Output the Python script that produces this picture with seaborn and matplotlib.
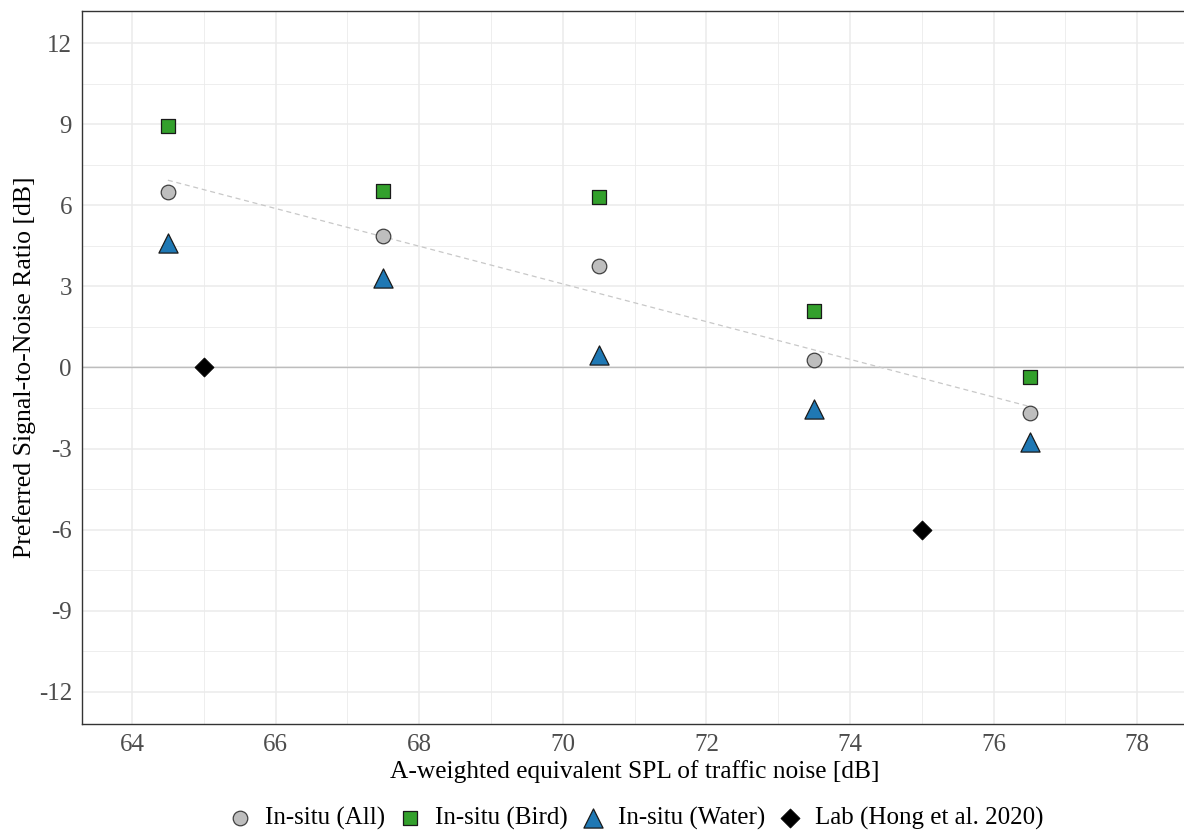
import matplotlib
matplotlib.use("Agg")
import matplotlib.pyplot as plt
import seaborn as sns
from matplotlib.ticker import MultipleLocator, FixedLocator


# =========================
# DATA
# =========================

spl_insitu = [64.5, 67.5, 70.5, 73.5, 76.5]
snr_all = [6.50, 4.86, 3.75, 0.27, -1.67]
snr_bird = [8.95, 6.53, 6.32, 2.08, -0.35]
snr_water = [4.60, 3.30, 0.46, -1.52, -2.75]

spl_lab = [65.0, 75.0]
snr_lab = [0.0, -6.0]

series_labels = ["In-situ (All)", "In-situ (Bird)", "In-situ (Water)", "Lab (Hong et al. 2020)"]
x_ticks = [64, 66, 68, 70, 72, 74, 76, 78]
y_ticks = [-12, -9, -6, -3, 0, 3, 6, 9, 12]


# =========================
# STYLE
# =========================

sns.set_style("white")
plt.rcParams["font.family"] = ["Liberation Serif", "DejaVu Serif"]
plt.rcParams["axes.unicode_minus"] = False
plt.rcParams["text.color"] = "black"
plt.rcParams["axes.labelcolor"] = "black"

grid_col = "#EBEBEB"
tick_col = "#4D4D4D"
frame_col = "#333333"


# =========================
# PLOT
# =========================

fig = plt.figure(figsize=(11.84, 8.33), dpi=100)
ax = fig.add_axes([0.069, 0.1305, 0.934, 0.8567])

ax.set_xlim(63.3, 78.7)
ax.set_ylim(-13.2, 13.2)

ax.xaxis.set_major_locator(FixedLocator(x_ticks))
ax.xaxis.set_minor_locator(MultipleLocator(1))
ax.yaxis.set_major_locator(FixedLocator(y_ticks))
ax.yaxis.set_minor_locator(MultipleLocator(1.5))

ax.grid(which="major", color=grid_col, lw=1.1, zorder=0)
ax.grid(which="minor", color=grid_col, lw=0.6, zorder=0)
ax.set_axisbelow(True)

# zero reference line
ax.axhline(0, color="#BDBDBD", lw=1.0, zorder=1)

# linear trend through the in-situ (all) points
sns.regplot(x=spl_insitu, y=snr_all, scatter=False, ci=None, truncate=True, ax=ax,
            line_kws=dict(color="#C8C8C8", lw=0.9, ls=(0, (4, 3)), zorder=2))

sns.scatterplot(x=spl_insitu, y=snr_all, ax=ax, marker="o", s=110,
                color="#BEBEBE", edgecolor="#404040", linewidth=0.9,
                label=series_labels[0], zorder=4)
sns.scatterplot(x=spl_insitu, y=snr_bird, ax=ax, marker="s", s=95,
                color="#33A02C", edgecolor="#1A1A1A", linewidth=0.9,
                label=series_labels[1], zorder=4)
sns.scatterplot(x=spl_insitu, y=snr_water, ax=ax, marker="^", s=190,
                color="#1F78B4", edgecolor="#1A1A1A", linewidth=0.9,
                label=series_labels[2], zorder=4)
sns.scatterplot(x=spl_lab, y=snr_lab, ax=ax, marker="D", s=95,
                color="black", edgecolor="black", linewidth=0.5,
                label=series_labels[3], zorder=4)

ax.set_xlabel("A-weighted equivalent SPL of traffic noise [dB]", fontsize=18.3, labelpad=3)
ax.set_ylabel("Preferred Signal-to-Noise Ratio [dB]", fontsize=18.5, labelpad=2)

ax.tick_params(axis="both", which="major", labelsize=18, labelcolor=tick_col,
               color=frame_col, length=3, width=0.8, pad=4)
ax.tick_params(axis="both", which="minor", length=0)

for side in ax.spines.values():
    side.set_visible(True)
    side.set_color(frame_col)
    side.set_linewidth(1.0)

# legend along the bottom
handles, labels = ax.get_legend_handles_labels()
leg = ax.legend(handles, labels, ncol=4, loc="center", bbox_to_anchor=(0.537, 0.018),
                bbox_transform=fig.transFigure, frameon=False, fontsize=18,
                handletextpad=0.5, columnspacing=0.5, handlelength=1.0)

fig.savefig("out.png", dpi=100)
